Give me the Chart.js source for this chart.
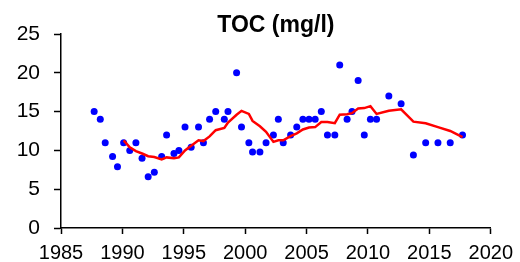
<!DOCTYPE html>
<html>
<head>
<meta charset="utf-8">
<script src="https://cdn.jsdelivr.net/npm/chart.js@4"></script>
<style>
  body { margin: 0; background: #fff; }
  #wrap { width: 520px; height: 262px; }
</style>
</head>
<body>
<div id="wrap"><canvas id="tocChart" width="520" height="262"></canvas></div>
<script>
// observed TOC values
const years = [1987.7, 1988.2, 1988.6, 1989.2, 1989.6, 1990.1, 1990.6, 1991.1, 1991.6, 1992.1,
    1992.6, 1993.2, 1993.6, 1994.2, 1994.6, 1995.1, 1995.6, 1996.2, 1996.6, 1997.1,
    1997.6, 1998.3, 1998.6, 1999.3, 1999.7, 2000.3, 2000.6, 2001.2, 2001.7, 2002.3,
    2002.7, 2003.1, 2003.7, 2004.2, 2004.7, 2005.2, 2005.7, 2006.2, 2006.7, 2007.3,
    2007.7, 2008.3, 2008.7, 2009.2, 2009.7, 2010.2, 2010.7, 2011.7, 2012.7, 2013.7,
    2014.7, 2015.7, 2016.7, 2017.7];
const toc = [15, 14, 11, 9.2, 7.9, 11, 10, 11, 9, 6.6,
    7.2, 9.2, 12, 9.6, 10, 13, 10.4, 13, 11, 14,
    15, 14, 15, 20, 13, 11, 9.8, 9.8, 11, 12,
    14, 11, 12, 13, 14, 14, 14, 15, 12, 12,
    21, 14, 15, 19, 12, 14, 14, 17, 16, 9.4,
    11, 11, 11, 12];

// running mean (red line)
const avgYears = [1990.1, 1990.6, 1991.1, 1991.6, 1992.1, 1992.6, 1993.2, 1993.6, 1994.2, 1994.6,
    1995.1, 1995.6, 1996.2, 1996.6, 1997.1, 1997.6, 1998.3, 1998.6, 1999.3, 1999.7,
    2000.3, 2000.6, 2001.2, 2001.7, 2002.3, 2002.7, 2003.1, 2003.7, 2004.2, 2004.7,
    2005.2, 2005.7, 2006.2, 2006.7, 2007.3, 2007.7, 2008.3, 2008.7, 2009.2, 2009.7,
    2010.2, 2010.7, 2011.7, 2012.7, 2013.7, 2014.7, 2015.7, 2016.7, 2017.7];
const avgToc = [11.3, 10.4, 9.9, 9.6, 9.25, 9.15, 8.85, 9.1, 9.0, 9.1,
    10.0, 10.6, 11.3, 11.2, 11.8, 12.6, 12.9, 13.6, 14.6, 15.1,
    14.7, 13.8, 13.1, 12.4, 11.1, 11.3, 11.3, 11.85, 12.2, 12.7,
    12.95, 13.0, 13.65, 13.65, 13.5, 14.6, 14.65, 14.8, 15.4, 15.45,
    15.7, 14.7, 15.1, 15.3, 13.7, 13.5, 13.0, 12.5, 11.7];

const xTicks = [1985, 1990, 1995, 2000, 2005, 2010, 2015, 2020];
const yTicks = [0, 5, 10, 15, 20, 25];

const font = 'Liberation Sans, Arial, sans-serif';

const ctx = document.getElementById('tocChart').getContext('2d');
const tocChart = new Chart(ctx, {
    type: 'scatter',
    data: {
        datasets: [{
            type: 'line',
            label: 'mean',
            data: avgYears.map((x, i) => ({ x: x, y: avgToc[i] })),
            borderColor: '#ff0000',
            borderWidth: 2.5,
            pointRadius: 0,
            tension: 0,
            fill: false,
            order: 0
        },
        {
            label: 'TOC',
            data: years.map((x, i) => ({ x: x, y: toc[i] })),
            backgroundColor: '#0000ff',
            borderWidth: 0,
            pointRadius: 3.5,
            order: 1
        }]
    },
    options: {
        responsive: false,
        animation: false,
        layout: {
            padding: { left: 0, right: 27, top: 0, bottom: 0 }
        },
        plugins: {
            legend: { display: false },
            tooltip: { enabled: false },
            title: {
                display: true,
                fullSize: false,
                text: 'TOC (mg/l)',
                color: '#000',
                font: { size: 23, weight: 'bold', family: font, lineHeight: 0.75 },
                padding: { top: 16.75, bottom: 0 }
            }
        },
        scales: {
            x: {
                type: 'linear',
                min: 1985,
                max: 2020,
                afterBuildTicks: axis => { axis.ticks = xTicks.map(v => ({ value: v })); },
                afterFit: axis => { axis.height = 34; },
                border: { display: true, color: '#000', width: 1.5 },
                grid: { display: true, drawOnChartArea: false, color: '#000', tickLength: 6, tickWidth: 1.5 },
                ticks: {
                    color: '#000',
                    padding: 7,
                    maxRotation: 0,
                    autoSkip: false,
                    font: { size: 20, family: font },
                    callback: v => String(v)
                }
            },
            y: {
                min: 0,
                max: 25,
                afterBuildTicks: axis => { axis.ticks = yTicks.map(v => ({ value: v })); },
                afterFit: axis => { axis.width = 61; },
                border: { display: true, color: '#000', width: 1.5 },
                grid: { display: true, drawOnChartArea: false, color: '#000', tickLength: 7, tickWidth: 1.5 },
                ticks: {
                    color: '#000',
                    padding: 14,
                    font: { size: 21, family: font },
                    callback: v => String(v)
                }
            }
        }
    }
});
</script>
</body>
</html>
